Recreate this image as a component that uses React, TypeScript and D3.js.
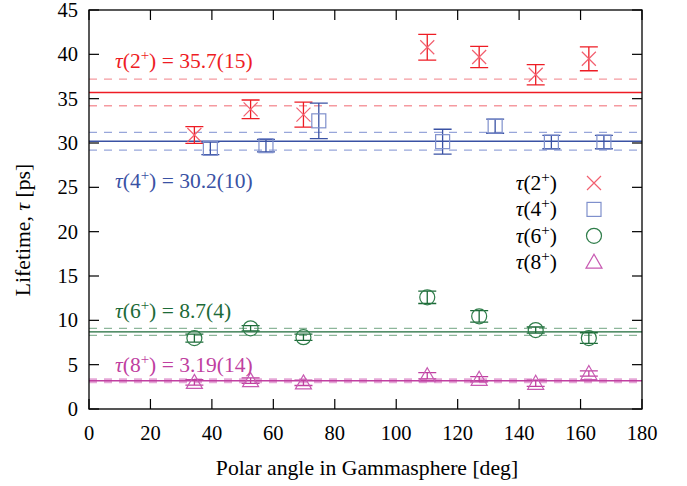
import React from 'react';
import * as d3 from 'd3';

// angles of the detector groups (deg)
const anglesA = [34.3, 52.6, 69.8, 110.1, 127.0, 145.4, 162.7];
const anglesB = [39.5, 57.6, 74.8, 115.1, 132.2, 150.5, 167.6];

// lifetimes (ps) and errors
const tau2 = [30.9, 33.8, 33.2, 40.8, 39.7, 37.7, 39.5];
const tau2Err = [0.95, 1.05, 1.4, 1.45, 1.2, 1.15, 1.35];
const tau4 = [29.4, 29.7, 32.5, 30.15, 31.9, 30.1, 30.1];
const tau4Err = [0.7, 0.7, 2.0, 1.4, 0.8, 0.75, 0.75];
const tau6 = [8.0, 9.1, 8.1, 12.6, 10.45, 8.9, 8.0];
const tau6Err = [0.45, 0.3, 0.35, 0.7, 0.65, 0.35, 0.6];
const tau8 = [3.0, 3.2, 2.95, 3.75, 3.35, 2.9, 4.0];
const tau8Err = [0.3, 0.3, 0.3, 0.35, 0.3, 0.35, 0.3];

// weighted means with uncertainty
const means = [35.7, 30.2, 8.7, 3.19];
const meanErrs = [1.5, 1.0, 0.4, 0.14];
const meanLabels = ['35.7(15)', '30.2(10)', '8.7(4)', '3.19(14)'];
const spins = ['2', '4', '6', '8'];

const xTicks = d3.range(0, 181, 20);
const yTicks = d3.range(0, 46, 5);

const series = [
  { ang: anglesA, val: tau2, err: tau2Err, sym: 'x', line: '#ee1c24', mark: '#f26070', dash: '#f59aa0', labelY: 68 },
  { ang: anglesB, val: tau4, err: tau4Err, sym: 'sq', line: '#3a52a4', mark: '#7f90cc', dash: '#98a6da', labelY: 188 },
  { ang: anglesA, val: tau6, err: tau6Err, sym: 'o', line: '#1d6a38', mark: '#2f7d4a', dash: '#8db69a', labelY: 318 },
  { ang: anglesA, val: tau8, err: tau8Err, sym: 'tri', line: '#c040a0', mark: '#c85ab2', dash: '#e6a8d8', labelY: 372 },
];

const font = "'Liberation Serif', 'Times New Roman', Times, serif";

function Marker({ sym, x, y, color }: { sym: string; x: number; y: number; color: string }) {
  const s = 7;
  if (sym === 'x')
    return <path d={`M${x - s},${y - s}L${x + s},${y + s}M${x - s},${y + s}L${x + s},${y - s}`} stroke={color} strokeWidth={1.2} fill="none" />;
  if (sym === 'sq')
    return <rect x={x - s} y={y - s} width={2 * s} height={2 * s} stroke={color} strokeWidth={1.2} fill="none" />;
  if (sym === 'o')
    return <circle cx={x} cy={y} r={7.5} stroke={color} strokeWidth={1.2} fill="none" />;
  return <path d={`M${x},${y - s - 1}L${x + s + 1},${y + s - 1}L${x - s - 1},${y + s - 1}Z`} stroke={color} strokeWidth={1.2} fill="none" />;
}

function Tau({ spin }: { spin: string }) {
  return (
    <>
      <tspan fontStyle="italic">τ</tspan>
      <tspan>({spin}</tspan>
      <tspan fontSize={15} dy={-8}>+</tspan>
      <tspan dy={8}>)</tspan>
    </>
  );
}

export default function App() {
  const width = 687;
  const height = 486;
  const x = d3.scaleLinear().domain([0, 180]).range([89, 642]);
  const y = d3.scaleLinear().domain([0, 45]).range([409, 10]);
  const tk = 10;
  const cap = 9;

  return (
    <svg width={width} height={height} style={{ position: 'absolute', left: 0, top: 0, background: '#fff', fontFamily: font }}>
      {/* mean lines */}
      {series.map((s, i) => (
        <g key={'m' + i}>
          <line x1={x(0)} x2={x(180)} y1={y(means[i] + meanErrs[i])} y2={y(means[i] + meanErrs[i])} stroke={s.dash} strokeWidth={i === 3 ? 2.5 : 1.3} strokeDasharray="8,7" />
          <line x1={x(0)} x2={x(180)} y1={y(means[i] - meanErrs[i])} y2={y(means[i] - meanErrs[i])} stroke={s.dash} strokeWidth={i === 3 ? 2.5 : 1.3} strokeDasharray="8,7" />
          <line x1={x(0)} x2={x(180)} y1={y(means[i])} y2={y(means[i])} stroke={s.line} strokeWidth={1.4} />
        </g>
      ))}

      {/* data points */}
      {series.map((s, i) => (
        <g key={'p' + i}>
          {s.val.map((v, j) => {
            const cx = x(s.ang[j]);
            const lo = y(v - s.err[j]);
            const hi = y(v + s.err[j]);
            return (
              <g key={j}>
                <path d={`M${cx},${lo}L${cx},${hi}M${cx - cap},${lo}L${cx + cap},${lo}M${cx - cap},${hi}L${cx + cap},${hi}`} stroke={s.line} strokeWidth={1.3} fill="none" />
                <Marker sym={s.sym} x={cx} y={y(v)} color={s.mark} />
              </g>
            );
          })}
        </g>
      ))}

      {/* mean labels */}
      {series.map((s, i) => (
        <text key={'l' + i} x={115} y={s.labelY} fontSize={21.5} fill={s.line}>
          <Tau spin={spins[i]} />
          <tspan> = {meanLabels[i]}</tspan>
        </text>
      ))}

      {/* legend */}
      {series.map((s, i) => (
        <g key={'g' + i}>
          <text x={557} y={190 + i * 26.4} fontSize={21.5} textAnchor="end" fill="#000">
            <Tau spin={spins[i]} />
          </text>
          <Marker sym={s.sym} x={594} y={183 + i * 26.4} color={s.mark} />
        </g>
      ))}

      {/* frame */}
      <rect x={x(0)} y={y(45)} width={x(180) - x(0)} height={y(0) - y(45)} fill="none" stroke="#000" strokeWidth={1.3} />
      <line x1={x(0)} x2={x(180)} y1={y(0)} y2={y(0)} stroke="#555" strokeWidth={1.6} />

      {/* ticks */}
      {xTicks.map(t => (
        <g key={'x' + t}>
          <line x1={x(t)} x2={x(t)} y1={y(0)} y2={y(0) - tk} stroke="#000" strokeWidth={1.2} />
          <line x1={x(t)} x2={x(t)} y1={y(45)} y2={y(45) + tk} stroke="#000" strokeWidth={1.2} />
          <text x={x(t)} y={440} fontSize={20.5} textAnchor="middle">{t}</text>
        </g>
      ))}
      {yTicks.map(t => (
        <g key={'y' + t}>
          <line x1={x(0)} x2={x(0) + tk} y1={y(t)} y2={y(t)} stroke="#000" strokeWidth={1.2} />
          <line x1={x(180)} x2={x(180) - tk} y1={y(t)} y2={y(t)} stroke="#000" strokeWidth={1.2} />
          <text x={78} y={y(t) + 7} fontSize={20.5} textAnchor="end">{t}</text>
        </g>
      ))}

      {/* axis titles */}
      <text x={367} y={475} fontSize={21.7} textAnchor="middle">Polar angle in Gammasphere [deg]</text>
      <text transform="translate(30,230) rotate(-90)" fontSize={21.7} textAnchor="middle">
        Lifetime, <tspan fontStyle="italic">τ</tspan> [ps]
      </text>
    </svg>
  );
}
